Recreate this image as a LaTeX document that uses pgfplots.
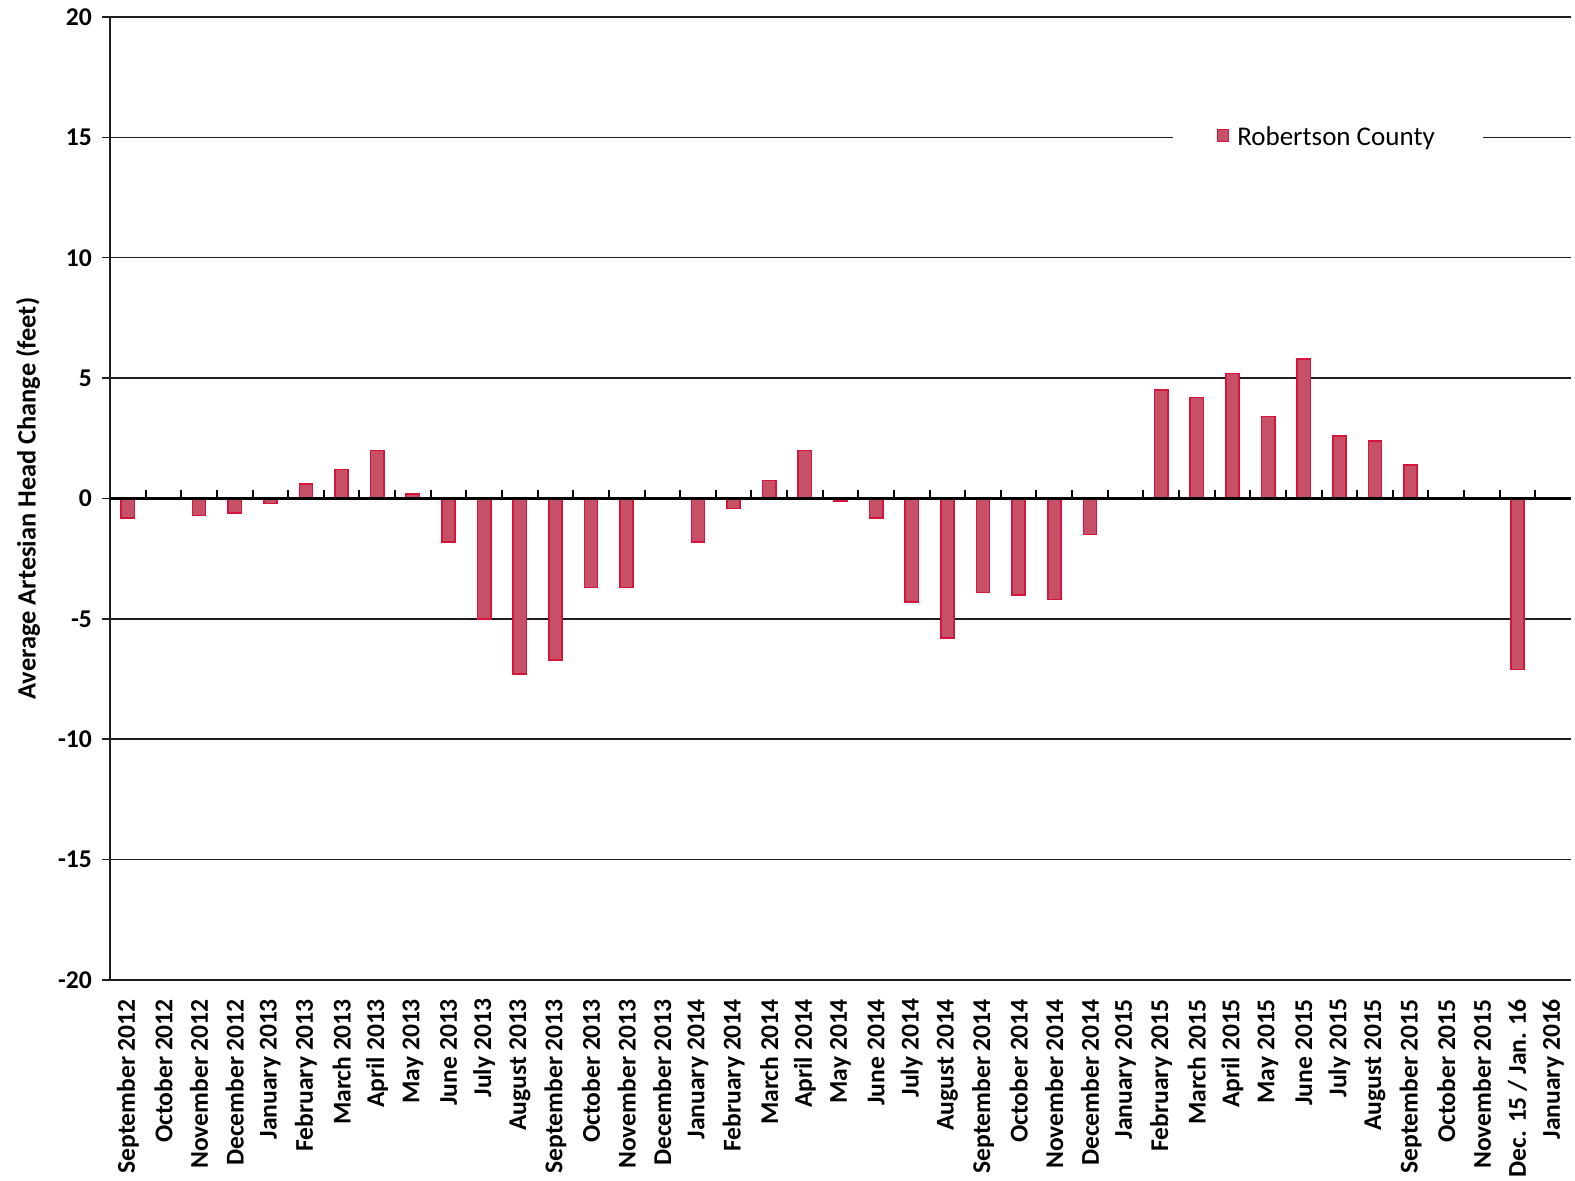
\documentclass[border=0pt]{standalone}
\usepackage{pgfplots}
\pgfplotsset{compat=1.18}
\usepackage{fontspec}
\setmainfont{Carlito}
\definecolor{barFill}{RGB}{198,80,102}
\definecolor{barEdge}{RGB}{215,20,60}
\definecolor{gridc}{RGB}{30,30,30}
\begin{document}
\begin{tikzpicture}
\begin{axis}[
  scale only axis,
  width=730.5pt, height=481.5pt,
  xmin=-0.5, xmax=40.5,
  ymin=-20, ymax=20,
  ytick={-20,-15,...,20},
  xtick={0,...,40},
  xticklabels={September 2012,October 2012,November 2012,December 2012,January 2013,February 2013,March 2013,April 2013,May 2013,June 2013,July 2013,August 2013,September 2013,October 2013,November 2013,December 2013,January 2014,February 2014,March 2014,April 2014,May 2014,June 2014,July 2014,August 2014,September 2014,October 2014,November 2014,December 2014,January 2015,February 2015,March 2015,April 2015,May 2015,June 2015,July 2015,August 2015,September 2015,October 2015,November 2015,Dec. 15 / Jan. 16,January 2016},
  axis x line*=bottom, axis y line*=left,
  axis line style={-, gridc, line width=0.85pt},
  ymajorgrids,
  grid style={gridc, line width=0.75pt},
  tick align=outside,
  major tick length=4pt,
  xtick style={draw=none},
  ytick style={gridc, line width=0.75pt},
  /pgf/number format/assume math mode=true,
  yticklabel style={font=\fontsize{12.8}{14}\selectfont\bfseries, xshift=-1.5pt},
  xticklabel style={rotate=90, anchor=east, font=\fontsize{12.8}{14}\selectfont\bfseries, xshift=-2pt},
  ylabel={Average Artesian Head Change (feet)},
  ylabel style={at={([xshift=-41pt]axis description cs:0,0.5)}, anchor=center, font=\fontsize{13.2}{14}\selectfont\bfseries},
  ybar, bar width=6.6pt,
  legend style={at={(axis description cs:0.8335,0.875)}, anchor=center, draw=none, fill=white,
    font=\fontsize{13.5}{15}\selectfont, inner xsep=22pt, inner ysep=4pt},
  legend image code/.code={\draw[fill=barFill, draw=barEdge, line width=0.8pt] (0pt,-2pt) rectangle (5.5pt,4pt);},
]
\addplot[fill=barFill, draw=barEdge, line width=0.8pt] coordinates {
(0,-0.8) (2,-0.7) (3,-0.6) (4,-0.2) (5,0.6) (6,1.2) (7,2.0) (8,0.18) (9,-1.8)
(10,-5.0) (11,-7.3) (12,-6.7) (13,-3.7) (14,-3.7) (16,-1.8) (17,-0.42) (18,0.75)
(19,2.0) (20,-0.1) (21,-0.8) (22,-4.3) (23,-5.8) (24,-3.9) (25,-4.0) (26,-4.2)
(27,-1.5) (29,4.5) (30,4.2) (31,5.2) (32,3.4) (33,5.8) (34,2.6) (35,2.4) (36,1.4)
(39,-7.1)
};
\addlegendentry{\hspace{2pt}Robertson County}
\draw[black, line width=1.3pt] (axis cs:-0.5,0) -- (axis cs:40.5,0);
\pgfplotsinvokeforeach{0,...,39}{
  \draw[black, line width=1pt] (axis cs:#1+0.5,0) -- ++(0pt,4pt);
}
\end{axis}
\pgfresetboundingbox
\path[use as bounding box] ([xshift=-55pt,yshift=-100.5pt]current axis.south west) rectangle ([xshift=732.5pt,yshift=490pt]current axis.south west);
\end{tikzpicture}
\end{document}
